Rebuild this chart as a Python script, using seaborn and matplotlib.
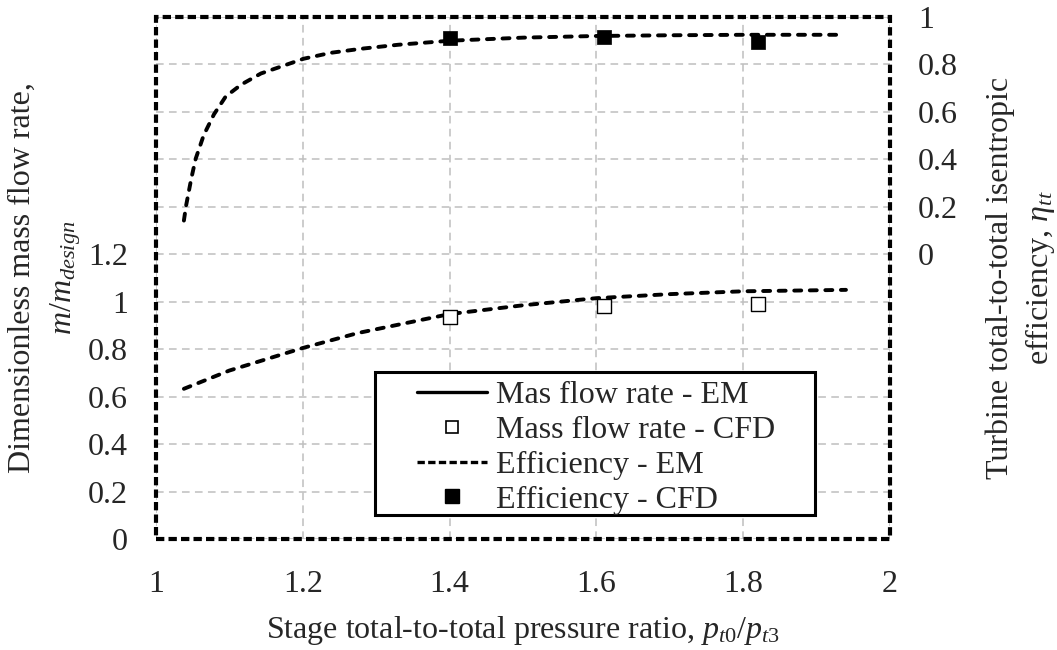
import numpy as np
import pandas as pd
import matplotlib
matplotlib.use("Agg")
import matplotlib.pyplot as plt
from matplotlib.lines import Line2D
import seaborn as sns

# ---- data ----
mass_em_x = [1.038, 1.1, 1.2, 1.275, 1.4, 1.5, 1.6, 1.7, 1.8, 1.94]
mass_em_y = [0.633, 0.71, 0.805, 0.868, 0.948, 0.985, 1.015, 1.032, 1.044, 1.05]
mass_cfd_x = [1.40, 1.61, 1.82]
mass_cfd_y = [0.935, 0.98, 0.99]
eff_em_x = [1.038, 1.041, 1.048, 1.054, 1.065, 1.079, 1.095, 1.116, 1.143, 1.174,
            1.201, 1.238, 1.279, 1.33, 1.4, 1.5, 1.6, 1.7, 1.8, 1.936]
eff_em_y = [0.142, 0.205, 0.318, 0.402, 0.502, 0.59, 0.665, 0.715, 0.762, 0.795,
            0.824, 0.849, 0.866, 0.883, 0.9, 0.913, 0.92, 0.923, 0.925, 0.925]
eff_cfd_x = [1.40, 1.61, 1.82]
eff_cfd_y = [0.912, 0.916, 0.895]

x_ticks = [1, 1.2, 1.4, 1.6, 1.8, 2]
x_labels = ["1", "1.2", "1.4", "1.6", "1.8", "2"]
left_ticks = [0, 0.2, 0.4, 0.6, 0.8, 1, 1.2, 1.4, 1.6, 1.8, 2.0, 2.2]
left_labels = ["0", "0.2", "0.4", "0.6", "0.8", "1", "1.2", "", "", "", "", ""]
right_ticks = [-1.2, -1.0, -0.8, -0.6, -0.4, -0.2, 0, 0.2, 0.4, 0.6, 0.8, 1.0]
right_labels = ["", "", "", "", "", "", "0", "0.2", "0.4", "0.6", "0.8", "1"]

sns.set_style("white")
plt.rcParams["font.family"] = ["Liberation Serif", "DejaVu Serif"]
plt.rcParams["mathtext.fontset"] = "custom"
plt.rcParams["mathtext.rm"] = "Liberation Serif"
plt.rcParams["mathtext.it"] = "Liberation Serif:italic"

FS = 23
fig = plt.figure(figsize=(10.57, 6.5), dpi=100)
ax = fig.add_axes([156/1057, 1-539/650, (890-156)/1057, (539-17)/650])
ax2 = ax.twinx()

LW = 2.8
dash = (1.8, 2.2)
df_m = pd.DataFrame({"x": mass_em_x, "y": mass_em_y})
sns.lineplot(data=df_m, x="x", y="y", ax=ax, color="black", lw=LW, sort=False)
ln = ax.lines[-1]
ln.set_dashes(dash); ln.set_dash_capstyle("round")
df_mc = pd.DataFrame({"x": mass_cfd_x, "y": mass_cfd_y})
sns.scatterplot(data=df_mc, x="x", y="y", ax=ax, marker="s", s=110,
                facecolor="white", edgecolor="black", linewidth=1.0, zorder=3)

df_e = pd.DataFrame({"x": eff_em_x, "y": eff_em_y})
sns.lineplot(data=df_e, x="x", y="y", ax=ax2, color="black", lw=LW, sort=False)
ln = ax2.lines[-1]
ln.set_dashes(dash); ln.set_dash_capstyle("round")
df_ec = pd.DataFrame({"x": eff_cfd_x, "y": eff_cfd_y})
sns.scatterplot(data=df_ec, x="x", y="y", ax=ax2, marker="s", s=110,
                color="black", edgecolor="black", linewidth=0.5, zorder=3)

ax.set_xlim(1, 2)
ax.set_ylim(0, 2.2)
ax2.set_ylim(-1.2, 1.0)
ax.set_xticks(x_ticks)
ax.set_xticklabels(x_labels, fontsize=FS)
ax.set_yticks(left_ticks)
ax.set_yticklabels(left_labels, fontsize=FS)
ax2.set_yticks(right_ticks)
ax2.set_yticklabels(right_labels, fontsize=FS)
ax.tick_params(axis="y", length=0, pad=20)
ax.tick_params(axis="x", length=0, pad=22)
ax2.tick_params(axis="y", length=0, pad=20)

ax.grid(True, color="#bfbfbf", linestyle=(0, (5, 3.5)), lw=1.1)
ax2.grid(False)
ax.set_axisbelow(True)

for a in (ax, ax2):
    for s in a.spines.values():
        s.set_visible(False)
frame = plt.Rectangle((0, 0), 1, 1, transform=ax.transAxes, fill=False,
                      edgecolor="black", lw=3, linestyle=(0, (2, 1)),
                      clip_on=False, zorder=10)
ax2.add_patch(frame)

ax.set_xlabel("Stage total-to-total pressure ratio, $p_{t0}/p_{t3}$", fontsize=FS, labelpad=11)
ax.set_ylabel("Dimensionless mass flow rate,\n$m/m_{design}$", fontsize=FS, labelpad=4,
              linespacing=1.5)
ax2.set_ylabel("Turbine total-to-total isentropic\nefficiency, $\\eta_{tt}$", fontsize=FS,
               labelpad=20, linespacing=1.3)

# legend box
box = plt.Rectangle((0.298, 0.046), 0.6, 0.274, transform=ax.transAxes, facecolor="white",
                    edgecolor="black", lw=2.2, zorder=15)
ax2.add_patch(box)

handles = [
    Line2D([], [], color="black", lw=2.4),
    Line2D([], [], color="black", lw=0, marker="s", markersize=9,
           markerfacecolor="white", markeredgecolor="black", markeredgewidth=1.2),
    Line2D([], [], color="black", lw=2.4, dashes=(2.2, 1.0)),
    Line2D([], [], color="black", lw=0, marker="s", markersize=10,
           markerfacecolor="black"),
]
labels = ["Mas flow rate - EM", "Mass flow rate - CFD", "Efficiency - EM", "Efficiency - CFD"]
leg = ax2.legend(handles, labels, loc="upper left", bbox_to_anchor=(0.355, 0.303),
                 fontsize=FS, frameon=False, handlelength=2.2, handletextpad=0.28,
                 borderpad=0, labelspacing=0.17, borderaxespad=0)
leg.set_zorder(20)

fig.savefig("out.png", dpi=100)
